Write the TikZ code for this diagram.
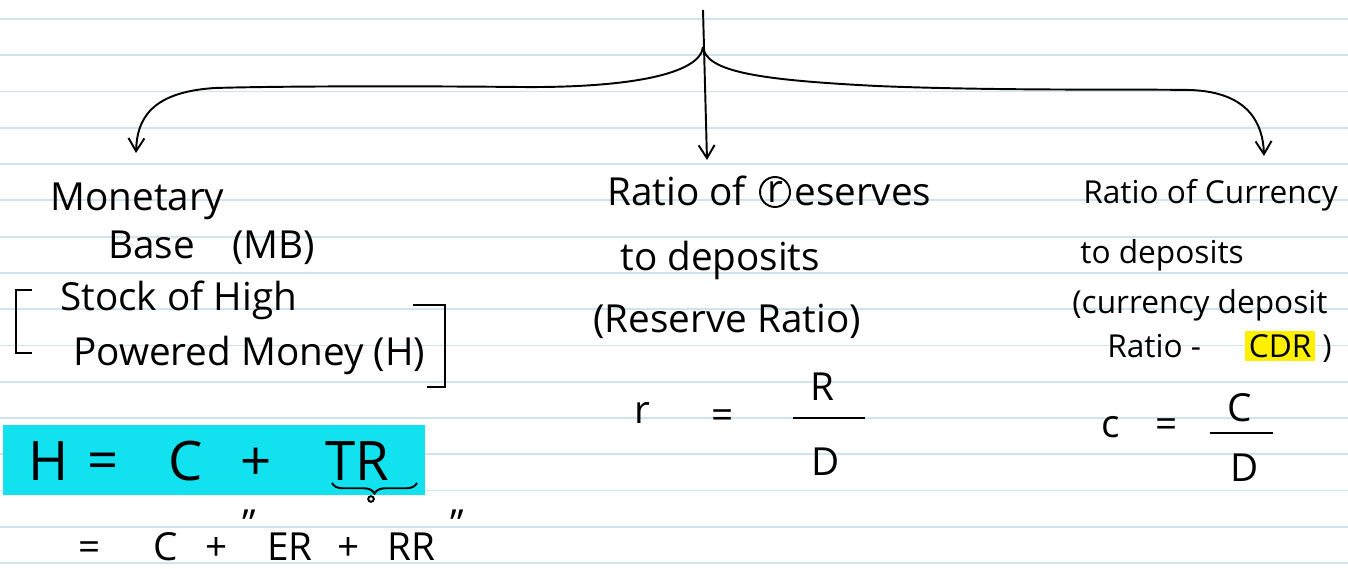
\documentclass[tikz,border=0pt]{standalone}
\usepackage{fontspec}
\setmainfont{Open Sans}
\usetikzlibrary{arrows.meta,decorations.pathreplacing}
\definecolor{ruleblue}{RGB}{206,228,238}
\definecolor{hlcyan}{RGB}{18,226,240}
\definecolor{hlyellow}{RGB}{255,240,0}
\tikzset{
  ink/.style={line width=1.1pt, black},
  hand/.style={font=\fontsize{22}{26}\selectfont, inner sep=0pt},
  handsmall/.style={font=\fontsize{18}{22}\selectfont, inner sep=0pt},
  handbig/.style={font=\fontsize{31}{36}\selectfont, inner sep=0pt},
}
\begin{document}
\begin{tikzpicture}[x=0.02cm, y=-0.02cm, >={Straight Barb[length=2.6mm,width=3.2mm]}]
  \useasboundingbox (0,0) rectangle (1348,568);
  \foreach \k in {0,...,15}
    \draw[ruleblue, line width=1pt] (0,{19+36.27*\k}) -- (1348,{19+36.27*\k});
  % tree
  \coordinate (top) at (703,10);
  \coordinate (fork) at (703,47);
  \coordinate (mbtip) at (136,153);
  \coordinate (rrtip) at (707,160);
  \coordinate (cdtip) at (1264,156);
  \draw[ink, ->] (top) -- (rrtip);
  \draw[ink, ->] (fork) .. controls (700,74) and (630,88) .. (520,87)
    .. controls (420,86) and (280,86) .. (215,88)
    .. controls (150,92) and (137,120) .. (mbtip);
  \draw[ink, ->] (fork) .. controls (706,72) and (760,80) .. (877,86)
    .. controls (1000,91) and (1130,89) .. (1190,90)
    .. controls (1250,92) and (1263,125) .. (cdtip);
  % monetary base
  \node[hand, anchor=base west] (mon) at (50,210) {Monetary};
  \node[hand, anchor=base west] (base) at (108,258) {Base};
  \node[hand, anchor=base west] (mbabbr) at (232,258) {(MB)};
  \node[hand, anchor=base west] (stock) at (60,310) {Stock of High};
  \node[hand, anchor=base west] (powered) at (73,365) {Powered Money (H)};
  \draw[ink] (32,290) -- (16,290) -- (16,353) -- (32,353);
  \draw[ink] (413,305) -- (445,305) -- (445,387) -- (427,387);
  \fill[hlcyan] (3,425) rectangle (425,495);
  \node[handbig, anchor=base west] (hsym) at (28,480) {H};
  \node[handbig] (heq) at (103,466) {=};
  \node[handbig, anchor=base west] (hc) at (168,480) {C};
  \node[handbig] (hplus) at (256,464) {+};
  \node[handbig, anchor=base west] (htr) at (325,480) {TR};
  \draw[ink, decorate, decoration={brace, mirror, amplitude=6pt}] (332,483) -- (417,483);
  \draw[ink] (371,499) circle (1.6pt);
  \node[hand] (eq2) at (90,551) {=};
  \node[hand, anchor=base west] (c2) at (153,560) {C};
  \node[hand] (plus2) at (217,549) {+};
  \node[hand] (qopen) at (249,524) {\symbol{"22}};
  \node[hand, anchor=base west] (er) at (267,560) {ER};
  \node[hand] (plus3) at (349,549) {+};
  \node[hand, anchor=base west] (rr) at (387,560) {RR};
  \node[hand] (qclose) at (457,524) {\symbol{"22}};
  % reserve ratio
  \node[hand, anchor=base west] (ratiores) at (607,205) {Ratio of};
  \node[hand, draw, circle, line width=1.1pt, minimum size=0.6cm, inner sep=0pt] (rcirc) at (775,192) {r};
  \node[hand, anchor=base west] (eserves) at (794,205) {eserves};
  \node[hand, anchor=base west] (todepr) at (620,270) {to deposits};
  \node[hand, anchor=base west] (resratio) at (593,332) {(Reserve Ratio)};
  \node[hand, anchor=base] (rsym) at (642,423) {r};
  \node[hand] (req) at (723,419) {=};
  \node[hand] (rnum) at (822,387) {R};
  \node[hand] (rden) at (826,462) {D};
  \draw[ink] (793,418) -- (865,418);
  % currency deposit ratio
  \node[handsmall, anchor=base west] (ratiocur) at (1083,203) {Ratio of Currency};
  \node[handsmall, anchor=base west] (todepc) at (1080,263) {to deposits};
  \node[handsmall, anchor=base west] (curdep) at (1072,313) {(currency deposit};
  \node[handsmall, anchor=base west] (ratiodash) at (1107,357) {Ratio -};
  \node[handsmall, fill=hlyellow, inner sep=2pt, anchor=base west] (cdr) at (1245,357) {CDR};
  \node[handsmall, anchor=base west] (cdrclose) at (1322,357) {)};
  \node[hand, anchor=base] (csym) at (1111,437) {c};
  \node[hand] (ceq) at (1167,428) {=};
  \node[hand] (cnum) at (1240,408) {C};
  \node[hand] (cden) at (1245,468) {D};
  \draw[ink] (1210,433) -- (1273,433);
\end{tikzpicture}
\end{document}
